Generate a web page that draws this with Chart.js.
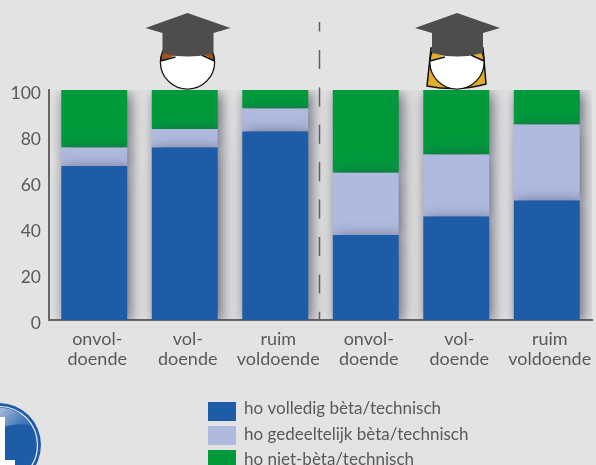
<!DOCTYPE html>
<html>
<head>
<meta charset="utf-8">
<style>
  html, body { margin: 0; padding: 0; background: #e3e3e3; overflow: hidden; }
  canvas { display: block; }
</style>
<script src="https://cdn.jsdelivr.net/npm/chart.js@4/dist/chart.umd.min.js"></script>
</head>
<body>
<canvas id="chart" width="596" height="465"></canvas>
<script>
const categories = [
  ['onvol-', 'doende'], ['vol-', 'doende'], ['ruim', 'voldoende'],
  ['onvol-', 'doende'], ['vol-', 'doende'], ['ruim', 'voldoende']
];
const seriesNames = ['ho volledig bèta/technisch', 'ho gedeeltelijk bèta/technisch', 'ho niet-bèta/technisch'];
const volledig = [67, 75, 82, 37, 45, 52];
const gedeeltelijk = [8, 8, 10, 27, 27, 33];
const nietBeta = [25, 17, 8, 36, 28, 15];

const BLUE = '#1f5ca8';
const LIGHT = '#b0bade';
const GREEN = '#009a3d';
const TEXT = '#595959';

function drawHead(ctx, cx, hairColor, longHair) {
  const cy = 62, r = 27;
  ctx.save();
  ctx.lineWidth = 1.5;
  ctx.strokeStyle = '#111';
  if (longHair) {
    ctx.fillStyle = hairColor;
    ctx.beginPath();
    ctx.moveTo(cx - 26, 48);
    ctx.lineTo(cx - 30, 86);
    ctx.quadraticCurveTo(cx, 92, cx + 29, 84);
    ctx.lineTo(cx + 26, 48);
    ctx.closePath();
    ctx.fill();
    ctx.stroke();
  }
  ctx.fillStyle = hairColor;
  ctx.beginPath();
  ctx.arc(cx, cy, r, 0, Math.PI * 2);
  ctx.fill();
  ctx.stroke();
  // face, under the hairline
  ctx.fillStyle = '#fff';
  ctx.beginPath();
  ctx.moveTo(cx - r + 0.5, cy - 1);
  ctx.quadraticCurveTo(cx - 14, cy - 6, cx - 8, cy - 8);
  ctx.lineTo(cx + 14, cy - 8);
  ctx.quadraticCurveTo(cx + 20, cy - 6, cx + r - 0.5, cy - 1);
  ctx.arc(cx, cy, r - 0.5, -0.02, Math.PI + 0.02);
  ctx.closePath();
  ctx.fill();
  ctx.beginPath();
  ctx.moveTo(cx - r, cy - 1);
  ctx.lineTo(cx - 12, cy - 5);
  ctx.moveTo(cx + r, cy - 1);
  ctx.lineTo(cx + 14, cy - 7);
  ctx.stroke();
  // mortarboard
  ctx.fillStyle = '#4d4d4d';
  ctx.beginPath();
  ctx.moveTo(cx, 13);
  ctx.lineTo(cx + 43, 28);
  ctx.lineTo(cx + 26, 33);
  ctx.lineTo(cx + 26, 53);
  ctx.quadraticCurveTo(cx, 60, cx - 25, 53);
  ctx.lineTo(cx - 25, 33);
  ctx.lineTo(cx - 42, 28);
  ctx.closePath();
  ctx.fill();
  ctx.restore();
}

function drawLogo(ctx) {
  const cx = -1, cy = 445, r = 42;
  ctx.save();
  ctx.fillStyle = BLUE;
  ctx.beginPath();
  ctx.arc(cx, cy, r, 0, Math.PI * 2);
  ctx.fill();
  ctx.strokeStyle = '#e8eef6';
  ctx.lineWidth = 1.2;
  ctx.beginPath();
  ctx.arc(cx, cy, r - 3.5, 0, Math.PI * 2);
  ctx.stroke();
  const shine = ctx.createLinearGradient(0, 406, 22, 425);
  shine.addColorStop(0, '#a9bfdc');
  shine.addColorStop(1, '#3f74b5');
  ctx.fillStyle = shine;
  ctx.beginPath();
  ctx.arc(cx, cy, r - 4.5, -Math.PI / 2, -0.55);
  ctx.quadraticCurveTo(18, 422, 0, 428);
  ctx.closePath();
  ctx.fill();
  ctx.fillStyle = '#fff';
  ctx.fillRect(0, 417, 5, 45);
  ctx.fillRect(0, 460, 15, 5);
  ctx.restore();
}

const decorPlugin = {
  id: 'decor',
  beforeDatasetDraw(chart) {
    const ctx = chart.ctx;
    ctx.save();
    ctx.shadowColor = 'rgba(45,50,75,0.75)';
    ctx.shadowBlur = 14;
    ctx.shadowOffsetX = 3;
    ctx.shadowOffsetY = 3;
  },
  afterDatasetDraw(chart) {
    chart.ctx.restore();
  },
  afterDraw(chart) {
    const { ctx, data, scales } = chart;
    // dashed divider between the two groups
    const mid = (scales.x.getPixelForValue(2) + scales.x.getPixelForValue(3)) / 2;
    ctx.save();
    ctx.strokeStyle = '#5f5f5f';
    ctx.lineWidth = 1.5;
    ctx.setLineDash([19, 18.4]);
    ctx.lineDashOffset = 9.4;
    ctx.beginPath();
    ctx.moveTo(mid - 1, 22);
    ctx.lineTo(mid - 1, scales.y.getPixelForValue(0));
    ctx.stroke();
    ctx.restore();

    drawHead(ctx, 187.5, '#a0521a', false);
    drawHead(ctx, 457, '#e0ae2c', true);
    drawLogo(ctx);

    // legend
    ctx.save();
    ctx.font = '17px Lato';
    ctx.textBaseline = 'middle';
    ctx.textAlign = 'left';
    data.datasets.forEach((ds, i) => {
      const y = 402 + i * 24;
      ctx.fillStyle = ds.backgroundColor;
      ctx.fillRect(208, y, 28, 19);
      ctx.fillStyle = TEXT;
      ctx.fillText(ds.label, 244, 408.5 + i * 25.7);
    });
    ctx.restore();
  }
};

new Chart(document.getElementById('chart'), {
  type: 'bar',
  data: {
    labels: categories,
    datasets: [
      { label: seriesNames[0], data: volledig, backgroundColor: BLUE },
      { label: seriesNames[1], data: gedeeltelijk, backgroundColor: LIGHT },
      { label: seriesNames[2], data: nietBeta, backgroundColor: GREEN }
    ]
  },
  options: {
    responsive: false,
    animation: false,
    layout: { padding: { top: 90, right: 4, left: 0, bottom: 0 } },
    plugins: { legend: { display: false }, title: { display: false }, tooltip: { enabled: false } },
    datasets: { bar: { barPercentage: 1, categoryPercentage: 66 / 90.6 } },
    scales: {
      x: {
        stacked: true,
        grid: { display: false },
        border: { color: '#666', width: 2 },
        ticks: { color: TEXT, font: { family: 'Lato', size: 18, lineHeight: 1.12 }, padding: 1, labelOffset: 3, maxRotation: 0, autoSkip: false },
        afterFit(scale) { scale.height = 145; }
      },
      y: {
        stacked: true,
        min: 0,
        max: 100,
        grid: { display: false, drawTicks: false },
        border: { color: '#666', width: 2 },
        ticks: { stepSize: 20, color: TEXT, font: { family: 'Lato', size: 17.5 }, padding: 8, labelOffset: 3 },
        afterFit(scale) { scale.width = 49; }
      }
    }
  },
  plugins: [decorPlugin]
});
</script>
</body>
</html>
